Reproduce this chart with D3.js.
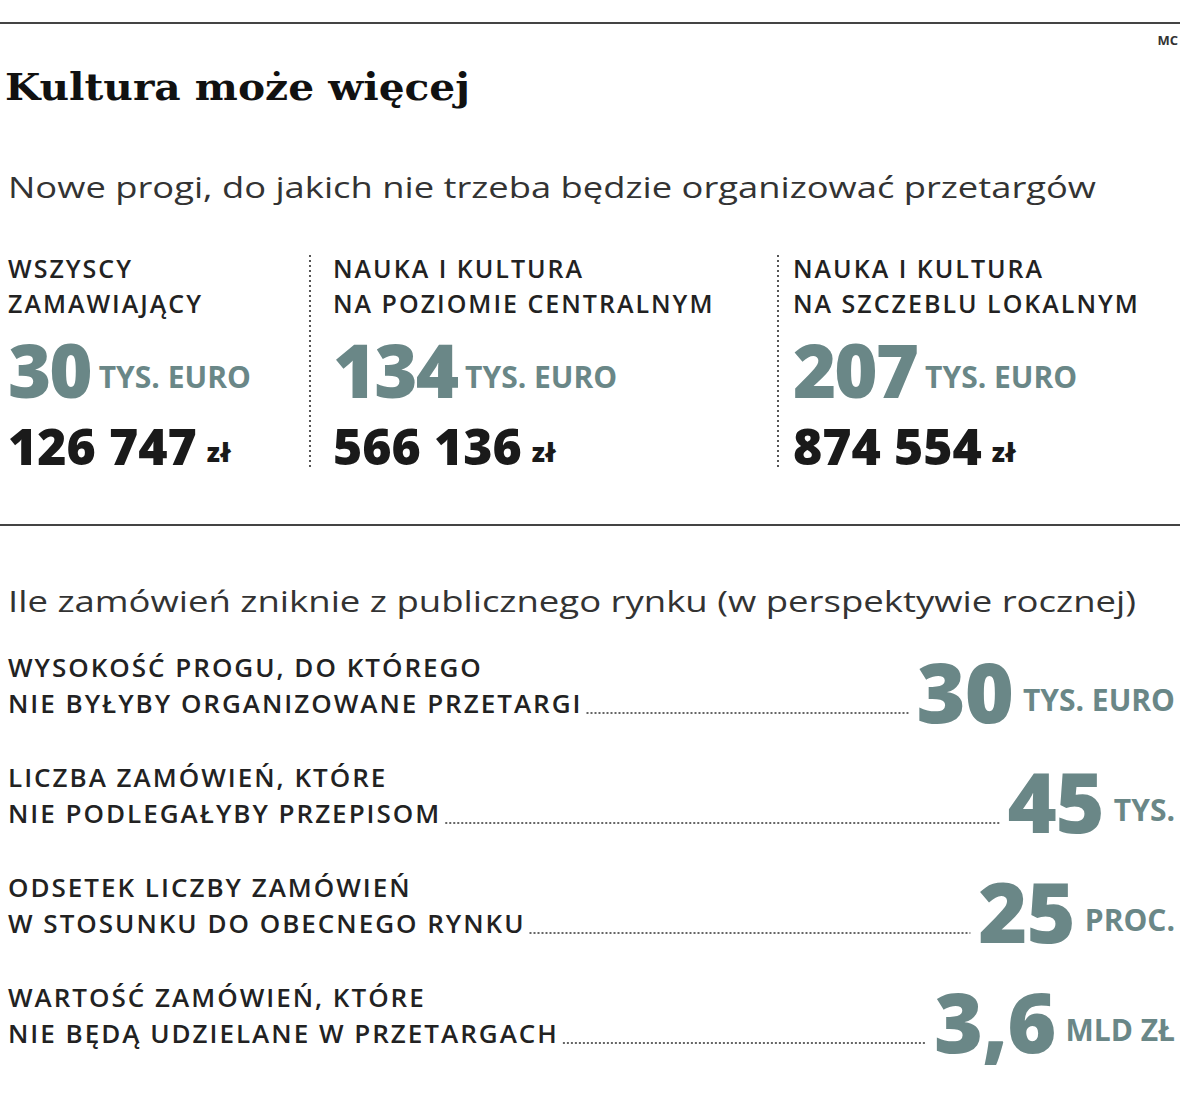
<!DOCTYPE html>
<html><head><meta charset="utf-8">
<script src="https://cdn.jsdelivr.net/npm/d3@7"></script>
<style>body{margin:0;background:#fff}</style>
</head><body><div class="chart"></div>
<script>
var title = 'Kultura może więcej';
var subtitle1 = 'Nowe progi, do jakich nie trzeba będzie organizować przetargów';
var subtitle2 = 'Ile zamówień zniknie z publicznego rynku (w perspektywie rocznej)';

var thresholdLabels = [
  ['WSZYSCY', 'ZAMAWIAJĄCY'],
  ['NAUKA I KULTURA', 'NA POZIOMIE CENTRALNYM'],
  ['NAUKA I KULTURA', 'NA SZCZEBLU LOKALNYM']
];
var thresholdEuro = ['30', '134', '207'];
var thresholdPln = ['126 747', '566 136', '874 554'];

var rowLabels = [
  ['WYSOKOŚĆ PROGU, DO KTÓREGO', 'NIE BYŁYBY ORGANIZOWANE PRZETARGI'],
  ['LICZBA ZAMÓWIEŃ, KTÓRE', 'NIE PODLEGAŁYBY PRZEPISOM'],
  ['ODSETEK LICZBY ZAMÓWIEŃ', 'W STOSUNKU DO OBECNEGO RYNKU'],
  ['WARTOŚĆ ZAMÓWIEŃ, KTÓRE', 'NIE BĘDĄ UDZIELANE W PRZETARGACH']
];
var rowValues = ['30', '45', '25', '3,6'];
var rowUnits = ['TYS. EURO', 'TYS.', 'PROC.', 'MLD ZŁ'];

var teal = '#6a8787', dark = '#1a1a1a';
var sans = '"Open Sans", sans-serif';

var svg = d3.select('.chart').append('svg').attr('width', 1200).attr('height', 1100);

svg.append('line').attr('x1', 0).attr('x2', 1180).attr('y1', 23).attr('y2', 23)
  .attr('stroke', '#444').attr('stroke-width', 2);
svg.append('text').attr('x', 1178).attr('y', 45).attr('text-anchor', 'end')
  .attr('font-family', sans).attr('font-weight', 700).attr('font-size', 13).attr('fill', '#333').text('MC');
svg.append('text').attr('x', 5).attr('y', 100)
  .attr('font-family', '"DejaVu Serif", serif').attr('font-weight', 700).attr('font-size', 38)
  .attr('fill', '#111').attr('textLength', 465).attr('lengthAdjust', 'spacingAndGlyphs').text(title);
svg.append('text').attr('x', 8).attr('y', 198)
  .attr('font-family', sans).attr('font-size', 30).attr('fill', '#333')
  .attr('textLength', 1088).attr('lengthAdjust', 'spacingAndGlyphs').text(subtitle1);

var colPos = [8, 333, 793];

function fitText(sel, maxW) {
  var w = sel.node().getComputedTextLength();
  if (w > maxW) sel.attr('textLength', maxW).attr('lengthAdjust', 'spacingAndGlyphs');
  return sel;
}

thresholdLabels.forEach(function(lines, i) {
  var g = svg.append('g').attr('transform', 'translate(' + colPos[i] + ',0)');
  lines.forEach(function(l, j) {
    fitText(g.append('text').attr('x', 0).attr('y', 278 + j * 35)
      .attr('font-family', sans).attr('font-weight', 600).attr('font-size', 25).attr('letter-spacing', 2)
      .attr('fill', '#222').text(l), 428);
  });
  var big = g.append('text').attr('x', 0).attr('y', 398)
    .attr('font-family', sans).attr('font-weight', 800).attr('font-size', 74).attr('fill', teal)
    .attr('letter-spacing', -2).text(thresholdEuro[i]);
  var bw = big.node().getComputedTextLength();
  g.append('text').attr('x', bw + 8).attr('y', 388)
    .attr('font-family', sans).attr('font-weight', 700).attr('font-size', 30).attr('fill', teal).text('TYS. EURO');
  var pln = g.append('text').attr('x', 0).attr('y', 465)
    .attr('font-family', sans).attr('font-weight', 800).attr('font-size', 50).attr('fill', dark)
    .text(thresholdPln[i]);
  var pw = pln.node().getComputedTextLength();
  g.append('text').attr('x', pw + 10).attr('y', 462)
    .attr('font-family', sans).attr('font-weight', 800).attr('font-size', 26).attr('fill', dark).text('zł');
});

[310, 778].forEach(function(x) {
  svg.append('line').attr('x1', x).attr('x2', x).attr('y1', 255).attr('y2', 470)
    .attr('stroke', '#555').attr('stroke-width', 2).attr('stroke-dasharray', '2,3');
});

svg.append('line').attr('x1', 0).attr('x2', 1180).attr('y1', 525).attr('y2', 525)
  .attr('stroke', '#444').attr('stroke-width', 2);
svg.append('text').attr('x', 8).attr('y', 612)
  .attr('font-family', sans).attr('font-size', 30).attr('fill', '#333')
  .attr('textLength', 1128).attr('lengthAdjust', 'spacingAndGlyphs').text(subtitle2);

var rowY = d3.scaleLinear().domain([0, 3]).range([677, 1007]);

rowLabels.forEach(function(lines, i) {
  var y0 = rowY(i);
  var last;
  lines.forEach(function(l, j) {
    last = fitText(svg.append('text').attr('x', 8).attr('y', y0 + j * 36)
      .attr('font-family', sans).attr('font-weight', 600).attr('font-size', 26).attr('letter-spacing', 2)
      .attr('fill', '#222').text(l), 640);
  });
  var lastW = last.node().getBBox().width;
  var unit = svg.append('text').attr('x', 1175).attr('y', y0 + 34).attr('text-anchor', 'end')
    .attr('font-family', sans).attr('font-weight', 700).attr('font-size', 30).attr('fill', teal).text(rowUnits[i]);
  var uw = unit.node().getComputedTextLength();
  var big = svg.append('text').attr('x', 1175 - uw - 10).attr('y', y0 + 46).attr('text-anchor', 'end')
    .attr('font-family', sans).attr('font-weight', 800).attr('font-size', 84).attr('fill', teal)
    .attr('letter-spacing', -1).text(rowValues[i]);
  var bw = big.node().getBBox().width;
  svg.append('line').attr('x1', 8 + lastW + 4).attr('x2', 1175 - uw - 10 - bw - 8)
    .attr('y1', y0 + 36).attr('y2', y0 + 36)
    .attr('stroke', '#666').attr('stroke-width', 2).attr('stroke-dasharray', '2,2');
});
</script></body></html>
